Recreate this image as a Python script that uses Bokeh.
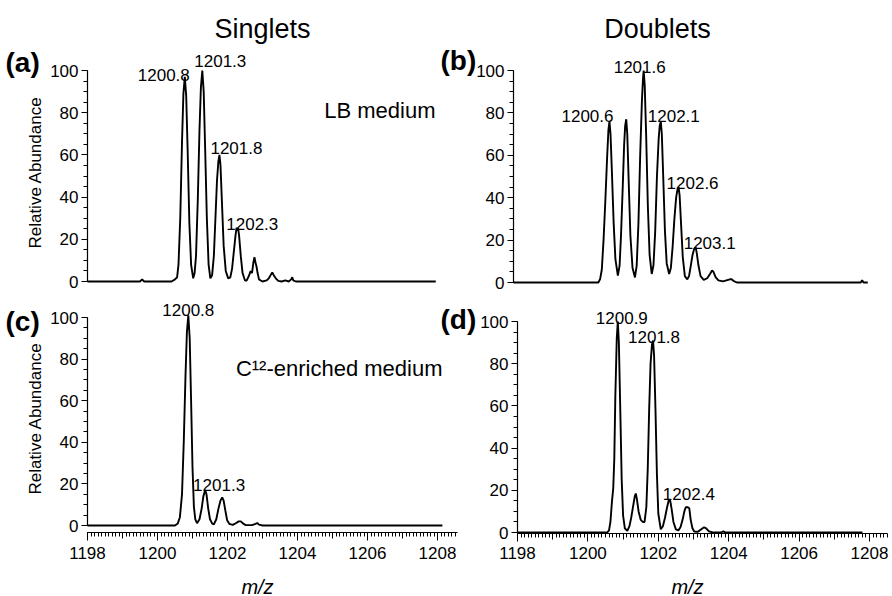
import math
from bokeh.plotting import figure
from bokeh.models import Label, SingleIntervalTicker, Range1d, LinearAxis
from bokeh.embed import file_html
from bokeh.resources import INLINE

FONT = "Liberation Sans"
W, H = 892, 596

# ---------------- data ----------------
# (a) Singlets, LB medium
a_mz = [1198.00, 1199.50, 1199.56, 1199.62, 1200.40, 1200.50, 1200.56, 1200.60, 1200.65, 1200.70,
        1200.74, 1200.78, 1200.82, 1200.86, 1200.91, 1200.96, 1201.02, 1201.06, 1201.10, 1201.15,
        1201.20, 1201.24, 1201.28, 1201.32, 1201.36, 1201.41, 1201.46, 1201.51, 1201.56, 1201.61,
        1201.65, 1201.70, 1201.74, 1201.77, 1201.80, 1201.84, 1201.89, 1201.95, 1202.02, 1202.08,
        1202.13, 1202.18, 1202.23, 1202.26, 1202.28, 1202.30, 1202.33, 1202.38, 1202.43, 1202.50,
        1202.55, 1202.62, 1202.66, 1202.70, 1202.74, 1202.77, 1202.80, 1202.83, 1202.86, 1202.90,
        1202.95, 1203.00, 1203.12, 1203.18, 1203.25, 1203.28, 1203.32, 1203.38, 1203.45, 1203.55,
        1203.65, 1203.75, 1203.82, 1203.85, 1203.88, 1203.95, 1207.95]
a_abund = [0, 0, 1, 0, 0, 1, 2, 8, 30, 66,
           89, 97, 88, 63, 28, 8, 1.5, 4, 12, 38,
           72, 92, 100, 90, 64, 30, 8, 1.5, 3, 12,
           28, 48, 57, 60, 55, 38, 17, 5, 1.5, 2,
           6, 14, 22, 25.5, 24, 25.5, 22, 12, 4, 0.5,
           0.5, 3, 5, 4, 9, 11.5, 9, 7, 4, 1,
           0.5, 0, 0.5, 1.5, 3.5, 4.3, 3, 1.5, 0.3, 0,
           0.5, 0, 1, 2, 0.5, 0, 0]
a_peak_mz = [1200.78, 1201.28, 1201.77, 1202.28]
a_peak_ab = [97, 100, 60, 25.5]
a_peak_txt = ["1200.8", "1201.3", "1201.8", "1202.3"]

# (b) Doublets, LB medium
b_mz = [1197.85, 1200.28, 1200.33, 1200.38, 1200.43, 1200.48, 1200.53, 1200.57, 1200.60, 1200.63,
        1200.67, 1200.72, 1200.77, 1200.84, 1200.89, 1200.93, 1200.98, 1201.02, 1201.05, 1201.08,
        1201.11, 1201.15, 1201.20, 1201.26, 1201.33, 1201.38, 1201.43, 1201.48, 1201.53, 1201.56,
        1201.58, 1201.61, 1201.65, 1201.70, 1201.75, 1201.81, 1201.86, 1201.91, 1201.96, 1202.01,
        1202.04, 1202.07, 1202.10, 1202.14, 1202.19, 1202.24, 1202.31, 1202.36, 1202.41, 1202.46,
        1202.51, 1202.55, 1202.58, 1202.61, 1202.65, 1202.70, 1202.76, 1202.83, 1202.88, 1202.93,
        1202.98, 1203.03, 1203.07, 1203.10, 1203.15, 1203.21, 1203.30, 1203.40, 1203.48, 1203.54,
        1203.58, 1203.64, 1203.72, 1203.85, 1203.95, 1204.05, 1204.10, 1204.15, 1204.25, 1207.80,
        1207.84, 1207.88, 1208.00]
b_abund = [0, 0, 1.5, 6, 20, 38, 58, 72, 76, 70,
           52, 28, 11, 3.3, 8, 22, 45, 65, 74, 77,
           70, 48, 22, 7, 2.4, 8, 28, 60, 86, 96,
           100, 93, 70, 36, 13, 4, 8, 24, 50, 68,
           74, 76, 70, 50, 24, 9, 4, 7, 17, 30,
           40, 44, 45, 41, 28, 12, 3, 1.5, 3, 8,
           13, 16, 16.6, 14, 8, 3, 1.2, 2, 4, 5.7,
           5, 2.5, 1, 0.5, 1, 1.5, 1.5, 0.8, 0, 0,
           1, 0, 0]
b_peak_mz = [1200.60, 1201.58, 1202.07, 1202.58, 1203.07]
b_peak_ab = [76, 100, 76, 45, 16.6]
b_peak_txt = ["1200.6", "1201.6", "1202.1", "1202.6", "1203.1"]

# (c) Singlets, C12-enriched medium
c_mz = [1198.00, 1200.50, 1200.58, 1200.64, 1200.70, 1200.75, 1200.80, 1200.84, 1200.88, 1200.92,
        1200.96, 1201.00, 1201.04, 1201.08, 1201.13, 1201.20, 1201.26, 1201.31, 1201.36, 1201.40,
        1201.45, 1201.50, 1201.56, 1201.61, 1201.68, 1201.74, 1201.80, 1201.85, 1201.89, 1201.94,
        1201.99, 1202.05, 1202.15, 1202.25, 1202.32, 1202.38, 1202.44, 1202.52, 1202.70, 1202.80,
        1202.85, 1202.90, 1203.00, 1208.14]
c_abund = [0, 0, 1, 4, 15, 40, 72, 93, 101, 90,
           60, 28, 9, 3, 1.1, 3, 8, 14, 17, 15,
           8, 3, 1, 0.5, 3, 8, 12, 13.5, 12, 7,
           2.5, 0.8, 0.3, 1.2, 2, 2, 1, 0.2, 0.2, 0.8,
           1.2, 0.4, 0, 0]
c_peak_mz = [1200.88, 1201.36]
c_peak_ab = [101, 17]
c_peak_txt = ["1200.8", "1201.3"]

# (d) Doublets, C12-enriched medium
d_mz = [1198.00, 1200.55, 1200.60, 1200.64, 1200.68, 1200.72, 1200.75, 1200.78, 1200.82, 1200.85,
        1200.88, 1200.92, 1200.96, 1201.00, 1201.05, 1201.12, 1201.18, 1201.23, 1201.28, 1201.33,
        1201.36, 1201.39, 1201.44, 1201.50, 1201.56, 1201.61, 1201.66, 1201.70, 1201.74, 1201.78,
        1201.82, 1201.85, 1201.88, 1201.92, 1201.96, 1202.00, 1202.07, 1202.13, 1202.19, 1202.25,
        1202.30, 1202.34, 1202.38, 1202.43, 1202.50, 1202.57, 1202.63, 1202.69, 1202.74, 1202.78,
        1202.83, 1202.88, 1202.92, 1202.97, 1203.02, 1203.12, 1203.22, 1203.30, 1203.36, 1203.44,
        1203.55, 1203.80, 1203.85, 1203.90, 1207.80]
d_abund = [0, 0, 1, 5, 14, 21, 35, 65, 92, 100,
           90, 58, 25, 8, 2, 0.8, 3, 7, 12, 17,
           18.5, 16, 10, 6, 5, 5, 12, 30, 58, 80,
           89, 91, 84, 58, 28, 9, 1.5, 3, 7, 12,
           15.5, 15, 11, 5, 1.5, 1, 2.5, 6, 10, 12,
           12, 11.5, 6, 2, 0.5, 0.3, 1.5, 2.5, 2, 0.5,
           0, 0.2, 0.6, 0, 0]
d_peak_mz = [1200.85, 1201.85, 1202.30]
d_peak_ab = [100, 91, 15.5]
d_peak_txt = ["1200.9", "1201.8", "1202.4"]

# ---------------- styling / layout constants ----------------
# label placement styles (align, x offset px, y offset px)
a_lab_style = [("right", 5, 2), ("left", -8, 10), ("left", -9, 7), ("left", -11, 4)]
b_lab_style = [("right", 4, 5), ("center", -4, 4), ("left", -13, 5), ("left", -12, 4), ("left", -12, 4)]
c_lab_style = [("center", 0, 5), ("left", -12, 5)]
d_lab_style = [("center", 4, 4), ("center", 1, 3), ("left", -6, 6)]

# panel placement: (x value, its pixel, px per unit, y value, its pixel from top, px per unit)
PANELS = {
    "a": (1198.0, 87, 35.0, 0.0, 281, 2.11),
    "b": (1197.85, 513, 34.9, 0.0, 282, 2.12),
    "c": (1198.0, 87, 35.0, 0.0, 525, 2.08),
    "d": (1198.0, 517, 35.2, 0.0, 532, 2.11),
}


def x_range_for(v0, p0, k):
    start = v0 - p0 / k
    return Range1d(start, start + W / k)


def y_range_for(v0, p0, k):
    start = v0 - (H - p0) / k
    return Range1d(start, start + H / k)


p = figure(width=W, height=H, x_range=Range1d(0, W), y_range=Range1d(0, H),
           output_backend="svg", toolbar_location=None, title=None,
           x_axis_location=None, y_axis_location=None, min_border=0)
p.outline_line_color = None
p.grid.visible = False
p.background_fill_color = "white"
p.border_fill_color = "white"

for key, (xv, xp, kx, yv, yp, ky) in PANELS.items():
    p.extra_x_ranges[key + "x"] = x_range_for(xv, xp, kx)
    p.extra_y_ranges[key + "y"] = y_range_for(yv, yp, ky)


def add_y_axis(key, xloc):
    ax = LinearAxis(x_range_name=key + "x", y_range_name=key + "y", fixed_location=xloc,
                    bounds=(0, 100), ticker=SingleIntervalTicker(interval=20, num_minor_ticks=4))
    ax.axis_line_color = "black"
    ax.axis_line_width = 1.2
    ax.major_tick_in = 0
    ax.major_tick_out = 6
    ax.minor_tick_in = 0
    ax.minor_tick_out = 4
    ax.major_tick_line_color = "black"
    ax.minor_tick_line_color = "black"
    ax.major_label_text_font = FONT
    ax.major_label_text_font_size = "17px"
    ax.major_label_text_color = "black"
    ax.major_label_standoff = 3
    p.add_layout(ax, "left")


def add_x_axis(key, yloc, xmax):
    ax = LinearAxis(x_range_name=key + "x", y_range_name=key + "y", fixed_location=yloc,
                    bounds=(1198, xmax), ticker=SingleIntervalTicker(interval=2, num_minor_ticks=20))
    ax.axis_line_color = "black"
    ax.axis_line_width = 1.2
    ax.major_tick_in = 0
    ax.major_tick_out = 8
    ax.minor_tick_in = 0
    ax.minor_tick_out = 4
    ax.major_tick_line_color = "black"
    ax.minor_tick_line_color = "black"
    ax.major_label_text_font = FONT
    ax.major_label_text_font_size = "17px"
    ax.major_label_text_color = "black"
    ax.major_label_standoff = 6
    p.add_layout(ax, "below")
    # medium ticks at every unit
    mid = LinearAxis(x_range_name=key + "x", y_range_name=key + "y", fixed_location=yloc,
                     bounds=(1198, xmax), ticker=SingleIntervalTicker(interval=1, num_minor_ticks=0))
    mid.axis_line_color = None
    mid.major_tick_in = 0
    mid.major_tick_out = 6
    mid.minor_tick_line_color = None
    mid.major_tick_line_color = "black"
    mid.major_label_text_alpha = 0
    mid.major_label_text_font_size = "1px"
    p.add_layout(mid, "below")


def add_trace(key, mz, ab):
    p.line(mz, ab, x_range_name=key + "x", y_range_name=key + "y",
           line_color="black", line_width=1.9)


def add_peak_labels(key, mzs, abs_, txts, styles):
    for x, y, t, (al, xo, yo) in zip(mzs, abs_, txts, styles):
        p.add_layout(Label(x=x, y=y, x_range_name=key + "x", y_range_name=key + "y",
                           text=t, text_align=al, text_baseline="alphabetic",
                           x_offset=xo, y_offset=yo, text_font=FONT,
                           text_font_size="17px", text_color="black"))


def add_text(px, py, t, size, align="left", style="normal", angle=0.0, baseline="alphabetic"):
    # px, py: canvas position, py measured from the top
    p.add_layout(Label(x=px, y=H - py, text=t, text_align=align, text_baseline=baseline,
                       angle=angle, text_font=FONT, text_font_size=size,
                       text_font_style=style, text_color="black"))


# axes
add_y_axis("a", 1198.0)
add_y_axis("b", 1197.85)
add_y_axis("c", 1198.0)
add_y_axis("d", 1198.0)
add_x_axis("c", -3.37, 1208.57)
add_x_axis("d", -0.47, 1208.5)

# traces and peak labels
add_trace("a", a_mz, a_abund)
add_trace("b", b_mz, b_abund)
add_trace("c", c_mz, c_abund)
add_trace("d", d_mz, d_abund)
add_peak_labels("a", a_peak_mz, a_peak_ab, a_peak_txt, a_lab_style)
add_peak_labels("b", b_peak_mz, b_peak_ab, b_peak_txt, b_lab_style)
add_peak_labels("c", c_peak_mz, c_peak_ab, c_peak_txt, c_lab_style)
add_peak_labels("d", d_peak_mz, d_peak_ab, d_peak_txt, d_lab_style)

# titles, panel letters, annotations, axis titles
add_text(262, 28, "Singlets", "27px", "center")
add_text(657, 28, "Doublets", "27px", "center")
add_text(5, 62, "(a)", "28px", "left", "bold")
add_text(440, 60, "(b)", "28px", "left", "bold")
add_text(5, 321, "(c)", "28px", "left", "bold")
add_text(440, 319, "(d)", "28px", "left", "bold")
add_text(435, 110, "LB medium", "22px", "right")
add_text(442, 368, "C\u00b9\u00b2-enriched medium", "22px", "right")
add_text(35, 172, "Relative Abundance", "17px", "center", angle=math.pi / 2, baseline="middle")
add_text(35, 418, "Relative Abundance", "17px", "center", angle=math.pi / 2, baseline="middle")
add_text(257, 586, "m/z", "20px", "center", "italic")
add_text(687, 586, "m/z", "20px", "center", "italic")

open("out.html", "w").write(file_html(p, INLINE))
